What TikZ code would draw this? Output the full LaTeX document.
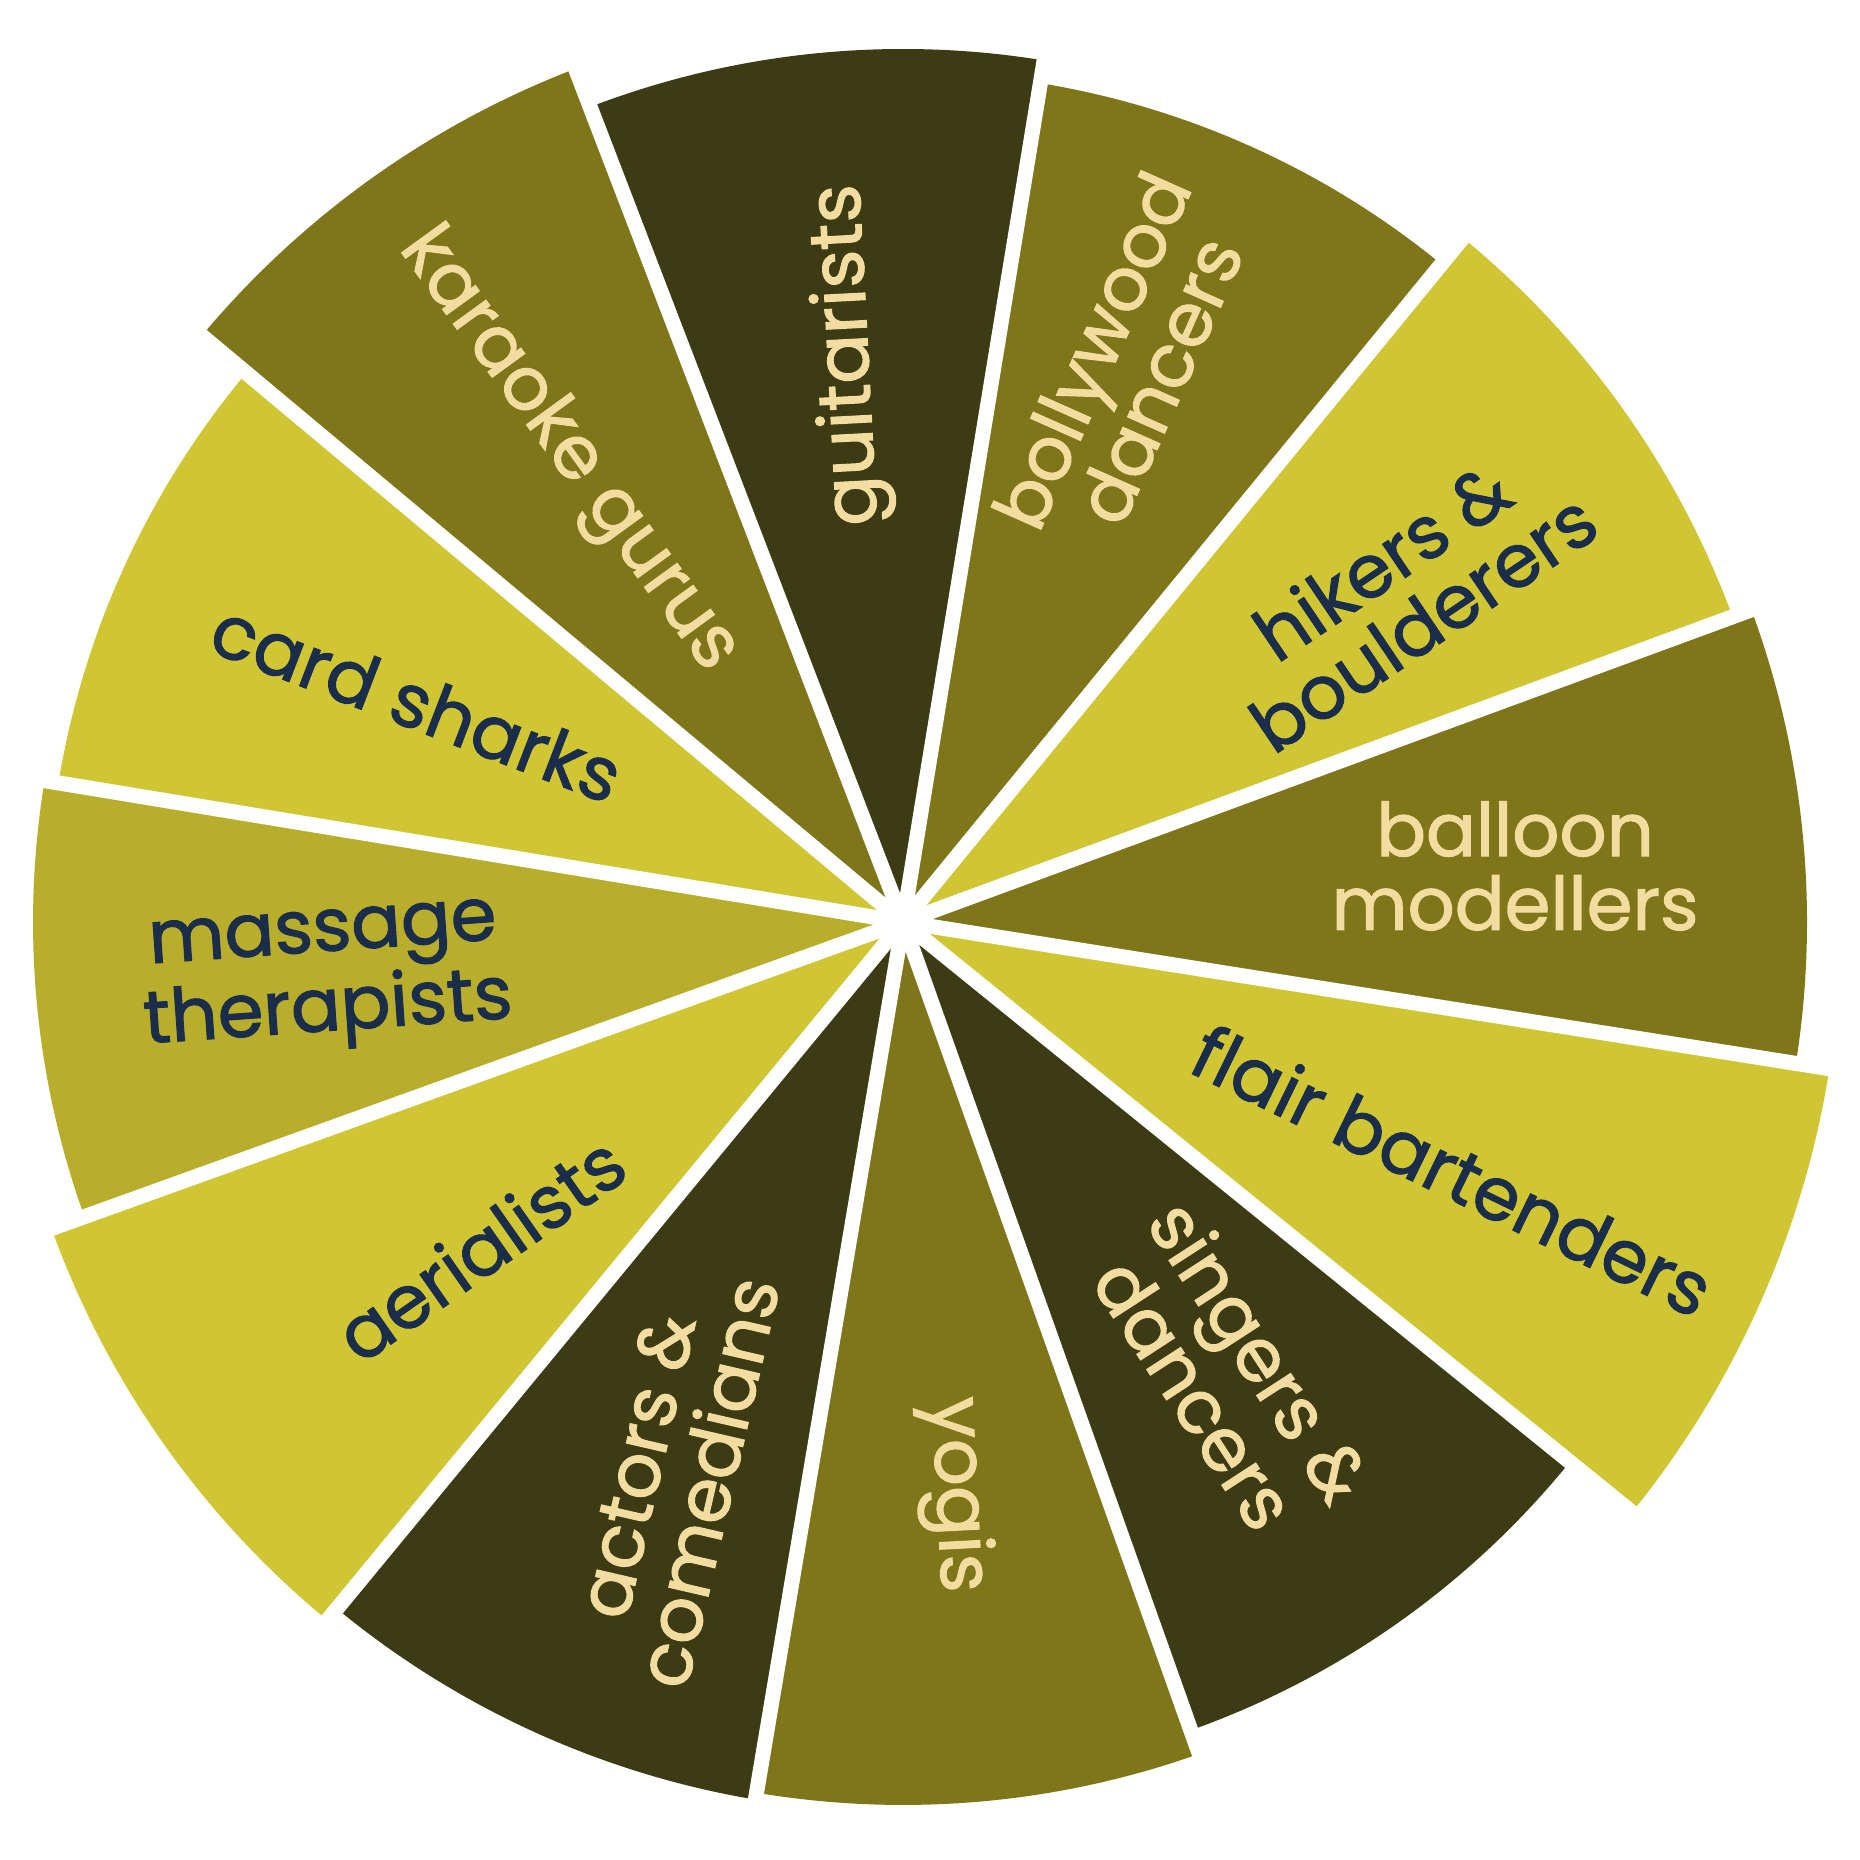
\documentclass[tikz,border=0pt]{standalone}
\usepackage{fontspec}
\setmainfont{Poppins}[FakeBold=1.5]
\definecolor{darkolive}{HTML}{3C3B13}
\definecolor{olive}{HTML}{7E7618}
\definecolor{lemon}{HTML}{D0C633}
\definecolor{mustard}{HTML}{B8AE2B}
\definecolor{cream}{HTML}{F2DCA0}
\definecolor{navy}{HTML}{1A2D4A}

\begin{document}
\begin{tikzpicture}[
    lightlbl/.style={text=cream, font=\fontsize{21}{21}\selectfont, align=center, inner sep=0pt},
    darklbl/.style={text=navy, font=\fontsize{21}{21}\selectfont, align=center, inner sep=0pt},
    gap/.style={white, line width=0.15cm}]
\useasboundingbox (0,0) rectangle (18.6,18.6);
\coordinate (c) at (9.03,9.38);

% wedges, clockwise from the top
\fill[darkolive] (c) -- ++(80.7:8.73) arc[start angle=80.7, end angle=111, radius=8.73] -- cycle;
\fill[olive] (c) -- ++(111:9.14) arc[start angle=111, end angle=140.1, radius=9.14] -- cycle;
\fill[lemon] (c) -- ++(140.1:8.56) arc[start angle=140.1, end angle=170.65, radius=8.56] -- cycle;
\fill[mustard] (c) -- ++(170.65:8.70) arc[start angle=170.65, end angle=199.8, radius=8.70] -- cycle;
\fill[lemon] (c) -- ++(199.8:9.05) arc[start angle=199.8, end angle=230.5, radius=9.05] -- cycle;
\fill[darkolive] (c) -- ++(230.5:8.90) arc[start angle=230.5, end angle=260.45, radius=8.90] -- cycle;
\fill[olive] (c) -- ++(260.45:8.83) arc[start angle=260.45, end angle=289.6, radius=8.83] -- cycle;
\fill[darkolive] (c) -- ++(289.6:8.58) arc[start angle=289.6, end angle=321, radius=8.58] -- cycle;
\fill[lemon] (c) -- ++(321:9.38) arc[start angle=321, end angle=351, radius=9.38] -- cycle;
\fill[olive] (c) -- ++(-9:9.04) arc[start angle=-9, end angle=20.2, radius=9.04] -- cycle;
\fill[lemon] (c) -- ++(20.2:8.84) arc[start angle=20.2, end angle=50.7, radius=8.84] -- cycle;
\fill[olive] (c) -- ++(50.7:8.50) arc[start angle=50.7, end angle=80.7, radius=8.50] -- cycle;

% white gaps
\foreach \a in {80.7,111,140.1,170.65,199.8,230.5,260.45,289.6,321,351,20.2,50.7}
    \draw[gap] (c) -- ++(\a:9.6);
\fill[white] (c) circle (0.12);

% labels
\node[lightlbl, rotate=93]  (guit)    at (8.50,15.05) {guitarists};
\node[lightlbl, rotate=66]  (bolly)   at (11.25,14.95) {bollywood\\dancers};
\node[darklbl, rotate=34]   (hikers)  at (14.02,12.69) {hikers \&\\boulderers};
\node[lightlbl]             (balloon) at (15.15,9.94) {balloon\\modellers};
\node[darklbl, rotate=-26]  (flair)   at (14.53,6.90) {flair bartenders};
\node[lightlbl, rotate=-57] (singers) at (12.28,4.88) {singers \&\\dancers};
\node[lightlbl, rotate=-87] (yogis)   at (9.55,3.65) {yogis};
\node[lightlbl, rotate=77]  (actors)  at (6.72,3.86) {actors \&\\comedians};
\node[darklbl, rotate=35]   (aerial)  at (4.80,6.12) {aerialists};
\node[darklbl, rotate=4]    (massage) at (3.26,8.80) {massage\\therapists};
\node[darklbl, rotate=-21]  (card)    at (4.17,11.58) {card sharks};
\node[lightlbl, rotate=-54] (karaoke) at (5.67,14.09) {karaoke gurus};
\end{tikzpicture}
\end{document}
